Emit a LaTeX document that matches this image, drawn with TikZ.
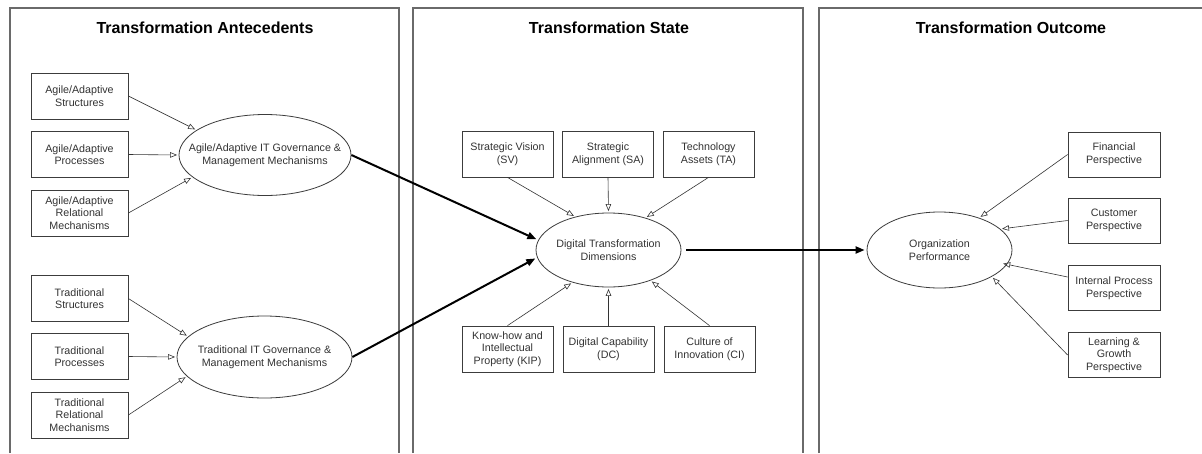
\documentclass[tikz,border=0pt]{standalone}
\usepackage{fontspec}
\setmainfont{Liberation Sans}
\usetikzlibrary{shapes.geometric,arrows.meta}
\definecolor{ink}{HTML}{333333}
\definecolor{boxline}{HTML}{3C3C3C}
\definecolor{panelline}{HTML}{6A6A6A}
\begin{document}
\begin{tikzpicture}[x=1pt,y=-1pt,
  panel/.style={draw=panelline,line width=1.2pt},
  ttl/.style={font=\bfseries\fontsize{16}{19}\selectfont,text=black,anchor=base,inner sep=0pt},
  bx/.style={draw=boxline,line width=0.8pt,rectangle,align=center,text=ink,
    font=\fontsize{10.7}{12.6}\selectfont,inner sep=1pt},
  lbx/.style={bx,minimum width=97pt,minimum height=46pt},
  mbx/.style={bx,minimum width=91pt,minimum height=46pt},
  rbx/.style={bx,minimum width=92pt,minimum height=45pt},
  ell/.style={draw=boxline,line width=0.8pt,ellipse,inner sep=0pt},
  etxt/.style={align=center,text=ink,font=\fontsize{10.7}{12.8}\selectfont,inner sep=0pt},
  thin/.style={draw=ink,line width=0.6pt,-{Triangle[open,length=7pt,width=5.5pt]},shorten >=1.5pt},
  thick/.style={draw=black,line width=2pt,-{Triangle[length=9pt,width=7pt]},shorten >=2pt}
]
\useasboundingbox (0,0) rectangle (1202,453);
\fill[white] (0,0) rectangle (1202,453);

% panels
\draw[panel] (10,453) -- (10,8) -- (399,8) -- (399,453);
\draw[panel] (413,453) -- (413,8) -- (803,8) -- (803,453);
\draw[panel] (819,453) -- (819,8) -- (1202,8);

% titles
\node[ttl] (t1) at (205,33) {Transformation Antecedents};
\node[ttl] (t2) at (609,33) {Transformation State};
\node[ttl] (t3) at (1011,33) {Transformation Outcome};

% left panel boxes
\node[lbx] (as) at (79.5,96) {Agile/Adaptive\\Structures};
\node[lbx] (ap) at (79.5,154.5) {Agile/Adaptive\\Processes};
\node[lbx] (ar) at (79.5,213) {Agile/Adaptive\\Relational\\Mechanisms};
\node[lbx] (ts) at (79.5,298.5) {Traditional\\Structures};
\node[lbx] (tp) at (79.5,356.5) {Traditional\\Processes};
\node[lbx] (tr) at (79.5,415) {Traditional\\Relational\\Mechanisms};

\node[ell,minimum width=172pt,minimum height=81pt] (agile) at (265,155) {};
\node[etxt] (agilet) at (agile.center) {Agile/Adaptive IT Governance \&\\Management Mechanisms};
\node[ell,minimum width=175pt,minimum height=82pt] (trad) at (264.5,357) {};
\node[etxt] (tradt) at (trad.center) {Traditional IT Governance \&\\Management Mechanisms};

% middle panel
\node[mbx] (sv) at (507.5,154) {Strategic Vision\\(SV)};
\node[mbx] (sa) at (608,154) {Strategic\\Alignment (SA)};
\node[mbx] (ta) at (708.5,154) {Technology\\Assets (TA)};
\node[mbx] (kip) at (507.5,349) {Know-how and\\Intellectual\\Property (KIP)};
\node[mbx] (dc) at (608.5,349) {Digital Capability\\(DC)};
\node[mbx] (ci) at (709.5,349) {Culture of\\Innovation (CI)};

\node[ell,minimum width=145pt,minimum height=74pt] (dtd) at (608.5,250) {};
\node[etxt] (dtdt) at (dtd.center) {Digital Transformation\\Dimensions};

% right panel
\node[rbx] (fin) at (1114,154.5) {Financial\\Perspective};
\node[rbx] (cus) at (1114,220.5) {Customer\\Perspective};
\node[rbx] (int) at (1114,288) {Internal Process\\Perspective};
\node[rbx] (lg) at (1114,355) {Learning \&\\Growth\\Perspective};

\node[ell,minimum width=145pt,minimum height=76pt] (op) at (939.5,250) {};
\node[etxt] (opt) at (op.center) {Organization\\Performance};

% thin arrows, left
\draw[thin] (as.east) -- (agile.160);
\draw[thin] (ap.east) -- (agile.180);
\draw[thin] (ar.east) -- (agile.197);
\draw[thin] (ts.east) -- (trad.165);
\draw[thin] (tp.east) -- (trad.180);
\draw[thin] (tr.east) -- (trad.194);

% thin arrows, middle
\draw[thin] (sv.south) -- (dtd.135);
\draw[thin] (sa.south) -- (dtd.90);
\draw[thin] (ta.south) -- (dtd.41);
\draw[thin] (kip.north) -- (dtd.222);
\draw[thin] (dc.north) -- (dtd.270);
\draw[thin] (ci.north) -- (dtd.324);

% thin arrows, right
\draw[thin] (fin.west) -- (op.39);
\draw[thin] (cus.west) -- (op.19);
\draw[thin,shorten >=-4pt] ([yshift=11pt]int.west) -- (op.348);
\draw[thin] (lg.west) -- (op.333);

% thick arrows
\draw[thick] (agile.0) -- (dtd.172);
\draw[thick] (trad.0) -- (dtd.186);
\draw[thick,shorten <=5pt] (dtd.0) -- (op.180);
\end{tikzpicture}
\end{document}
